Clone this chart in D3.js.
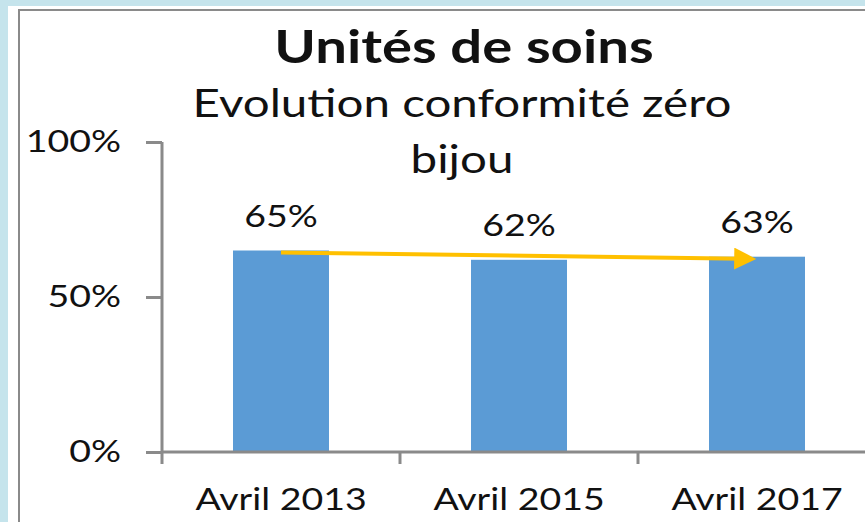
<!DOCTYPE html>
<html>
<head>
<meta charset="utf-8">
<script src="https://cdn.jsdelivr.net/npm/d3@7"></script>
<style>
  html, body { margin: 0; padding: 0; background: #c5e4ec; }
  svg { display: block; }
  text { font-family: Lato, "Open Sans", sans-serif; fill: #111; }
</style>
</head>
<body>
<div id="app"></div>
<script>
const categories = ['Avril 2013', 'Avril 2015', 'Avril 2017'];
const values = [0.65, 0.62, 0.63];
const yTicks = [0, 0.5, 1];
const title = 'Unités de soins';
const subtitle = ['Evolution conformité zéro', 'bijou'];

const width = 865;
const height = 522;
const sx = 1.25; // le texte d'origine est étiré en largeur

const svg = d3.select('#app')
  .append('svg')
  .attr('width', width)
  .attr('height', height)

// fond blanc + cadre
svg.append('rect')
  .attr('x', 8).attr('y', 6)
  .attr('width', width).attr('height', height)
  .attr('fill', '#fff')

svg.append('rect')
  .attr('x', 19).attr('y', 10)
  .attr('width', width).attr('height', height)
  .attr('fill', 'none')
  .attr('stroke', '#8a8a8a')
  .attr('stroke-width', 2)

const x0 = 162;
const xScale = d3.scaleBand()
  .domain(categories)
  .range([x0, x0 + 238 * 3])

const yScale = d3.scaleLinear()
  .domain([0, 1])
  .range([452, 142])

const fmt = d3.format('.0%');

// texte étiré, centré en (x, y)
function label(g, x, y, size, str, weight) {
  return g.append('text')
    .attr('transform', `translate(${x},${y}) scale(${sx},1)`)
    .attr('text-anchor', 'middle')
    .attr('font-size', size)
    .attr('font-weight', weight || 'normal')
    .text(str)
}

// titres
label(svg, 464, 63, 45, title, 'bold')
subtitle.forEach((s, i) => label(svg, 462, 117 + i * 56, 38, s))

// barres
const barW = 96;
const cx = i => xScale(categories[i]) + xScale.bandwidth() / 2;
svg.append('g')
  .selectAll('rect')
  .data(values)
  .enter()
  .append('rect')
  .attr('x', (d, i) => cx(i) - barW / 2)
  .attr('y', d => yScale(d))
  .attr('width', barW)
  .attr('height', d => yScale(0) - yScale(d))
  .attr('fill', '#5b9bd5')

// étiquettes de valeur
const lab = svg.append('g');
values.forEach((d, i) => label(lab, cx(i), yScale(d) - 24, 30, fmt(d)))

// axe y
const yAxis = svg.append('g')
  .attr('transform', `translate(${x0}, 0)`)
  .call(d3.axisLeft(yScale).tickValues(yTicks).tickFormat(fmt).tickSize(16).tickPadding(25))
yAxis.select('.domain').attr('stroke', '#8a8a8a').attr('stroke-width', 3).attr('d', `M0,${yScale(1)}V${yScale(0) + 12}`)
yAxis.selectAll('.tick line').attr('stroke', '#8a8a8a').attr('stroke-width', 3)
yAxis.selectAll('.tick text')
  .attr('font-size', 30).attr('font-family', 'Lato, sans-serif').attr('fill', '#111')
  .attr('x', -41 / sx)
  .attr('transform', `scale(${sx},1)`)

// axe x
const xAxis = svg.append('g')
  .attr('transform', `translate(0, ${yScale(0)})`)
  .call(d3.axisBottom(xScale).tickSize(0).tickPadding(37))
xAxis.select('.domain').attr('stroke', '#8a8a8a').attr('stroke-width', 3).attr('d', `M${x0},0H${width + 20}`)
xAxis.selectAll('.tick text')
  .attr('font-size', 30).attr('font-family', 'Lato, sans-serif').attr('fill', '#111')
  .attr('transform', `scale(${sx},1)`)
xAxis.selectAll('.sep')
  .data(categories)
  .enter()
  .append('line')
  .attr('x1', d => xScale(d) + xScale.bandwidth())
  .attr('x2', d => xScale(d) + xScale.bandwidth())
  .attr('y1', 0).attr('y2', 12)
  .attr('stroke', '#8a8a8a').attr('stroke-width', 3)

// flèche de tendance
svg.append('defs').append('marker')
  .attr('id', 'head')
  .attr('viewBox', '0 0 10 10')
  .attr('refX', 4).attr('refY', 5)
  .attr('markerWidth', 6.5).attr('markerHeight', 5.5)
  .attr('orient', 'auto')
  .append('path')
  .attr('d', 'M0,0L10,5L0,10z')
  .attr('fill', '#ffc000')

const last = values.length - 1;
svg.append('line')
  .attr('x1', cx(0))
  .attr('y1', yScale(values[0]) + 2)
  .attr('x2', cx(last) - 14)
  .attr('y2', yScale(values[last]) + 2)
  .attr('stroke', '#ffc000')
  .attr('stroke-width', 4)
  .attr('marker-end', 'url(#head)')
</script>
</body>
</html>
